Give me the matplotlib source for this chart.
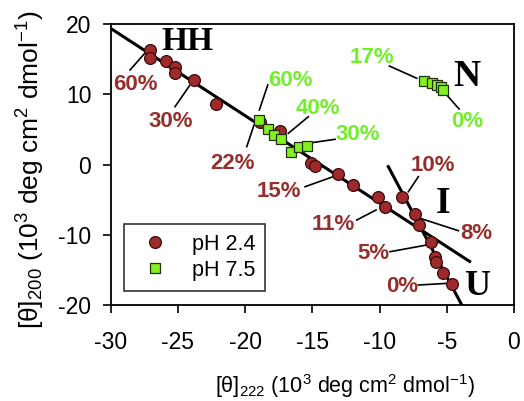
import matplotlib
matplotlib.use("Agg")
import matplotlib.pyplot as plt
import numpy as np

plt.rcParams['font.family'] = ['Liberation Sans', 'DejaVu Sans']
plt.rcParams['mathtext.fontset'] = 'custom'
plt.rcParams['mathtext.rm'] = 'Liberation Sans'
plt.rcParams['mathtext.it'] = 'Liberation Sans:italic'
plt.rcParams['mathtext.bf'] = 'Liberation Sans:bold'
plt.rcParams['axes.unicode_minus'] = False

# pH 2.4 data (theta222, theta200)
ph24_x = [-27.1, -27.1, -25.9, -25.2, -25.2, -23.8, -22.2, -18.9, -17.4, -15.1, -14.8,
          -13.1, -12.0, -10.1, -9.6, -8.3, -7.4, -7.1, -6.2, -5.9, -5.8, -5.25, -4.6]
ph24_y = [16.3, 15.1, 14.8, 13.9, 13.0, 12.0, 8.6, 6.0, 4.8, 0.2, -0.2,
          -1.4, -2.9, -4.6, -6.0, -4.6, -7.1, -8.6, -11.1, -13.1, -13.9, -15.5, -17.0]

# pH 7.5 data
ph75_x = [-19.0, -18.3, -17.85, -17.3, -16.6, -16.0, -15.4, -6.7, -6.1, -5.7, -5.4, -5.25]
ph75_y = [6.4, 5.0, 4.2, 3.6, 1.8, 2.45, 2.6, 11.9, 11.55, 11.3, 11.0, 10.6]

# fitted lines (endpoints in data units)
hh_line_x = [-29.9, -3.3]
hh_line_y = [19.25, -13.8]
ui_line_x = [-9.35, -3.8]
ui_line_y = [-0.3, -20.3]

xticks = [-30, -25, -20, -15, -10, -5, 0]
yticks = [-20, -10, 0, 10, 20]

RED = '#9E2A2B'
GREEN = '#84F022'
TRED = '#952F2C'
TGREEN = '#72EE2A'

W, H = 524, 401
fig = plt.figure(figsize=(W / 100, H / 100), dpi=100)
ax = fig.add_axes([110.7 / W, 1 - 305 / H, (514 - 110.7) / W, (305 - 24) / H])

ax.plot(hh_line_x, hh_line_y, color='black', lw=2.2, zorder=2)
ax.plot(ui_line_x, ui_line_y, color='black', lw=2.2, zorder=2, clip_on=True)

ax.plot(ph24_x, ph24_y, 'o', ms=8.5, mfc=RED, mec='#3a0a0a', mew=0.9, ls='none',
        label='pH 2.4', zorder=3)
ax.plot(ph75_x, ph75_y, 's', ms=7, mfc=GREEN, mec='#203010', mew=0.9, ls='none',
        label='pH 7.5', zorder=4)

ax.set_xlim(-30, 0)
ax.set_ylim(-20, 20)
ax.set_xticks(xticks)
ax.set_yticks(yticks)
ax.tick_params(direction='out', length=6, width=1.2, labelsize=16.5)
ax.tick_params(axis='x', pad=13)
ax.tick_params(axis='y', pad=8)
for s in ax.spines.values():
    s.set_linewidth(1.3)

ax.set_xlabel('[θ]$_{222}$ (10$^3$ deg cm$^2$ dmol$^{-1}$)', fontsize=15.5)
ax.set_ylabel('[θ]$_{200}$ (10$^3$ deg cm$^2$ dmol$^{-1}$)', fontsize=19)
ax.xaxis.set_label_coords(0.58, -0.24)
ax.yaxis.set_label_coords(-0.158, 0.48)

def px2d(px, py):
    x = (px - 110.7) / 13.44 - 30
    y = 20 - (py - 24) / 7.025
    return x, y

def label(txt, cx, cy, color, l0, l1, fs=16):
    x, y = px2d(cx, cy)
    ax.text(x, y, txt, color=color, fontsize=fs, fontweight='bold', ha='center', va='center')
    a = px2d(*l0)
    b = px2d(*l1)
    ax.plot([a[0], b[0]], [a[1], b[1]], color='black', lw=1.2, zorder=1)

label('60%', 135, 85, TRED, (130, 70), (145, 53))
label('30%', 170.7, 121.7, TRED, (175, 106.7), (189.3, 86))
label('22%', 232.7, 163.3, TRED, (246.7, 146.7), (254, 125))
label('15%', 279, 191.7, TRED, (305, 186.7), (333, 176.7))
label('11%', 333.3, 224, TRED, (356.7, 220), (376, 210))
label('10%', 432.3, 165.7, TRED, (408.3, 191.7), (418.3, 176.7))
label('8%', 476.7, 233.3, TRED, (420, 218.3), (458.3, 230.7))
label('5%', 373.3, 253.3, TRED, (390, 251.7), (426.7, 245))
label('0%', 401.7, 286.7, TRED, (418.3, 285), (448.3, 283.3))

label('60%', 290.7, 80.7, TGREEN, (259.3, 110), (267.7, 85))
label('40%', 318.3, 108.3, TGREEN, (288.3, 133.3), (308.3, 116.7))
label('30%', 357.7, 135, TGREEN, (311.7, 142.7), (335, 139.3))
label('17%', 371.7, 57.3, TGREEN, (389.3, 66), (416.7, 78.3))
label('0%', 466.7, 121.7, TGREEN, (446.7, 95), (459, 109))

for txt, cx, cy, fs in [('HH', 187.3, 41.7, 24), ('N', 466.7, 76.7, 27),
                        ('I', 443.3, 203.3, 27), ('U', 476.7, 286.7, 26)]:
    x, y = px2d(cx, cy)
    ax.text(x, y, txt, fontsize=fs, fontweight='bold', family='Liberation Serif',
            ha='center', va='center', color='black')

leg = ax.legend(loc='lower left', bbox_to_anchor=((124 - 110.7) / 403.3, (305 - 290.7) / 281),
                fontsize=15.5, frameon=True, fancybox=False, edgecolor='black',
                borderpad=0.45, handletextpad=0.7, labelspacing=0.25, borderaxespad=0,
                handlelength=2.0)
leg.get_frame().set_linewidth(1.2)

fig.savefig('out.png', dpi=100)
